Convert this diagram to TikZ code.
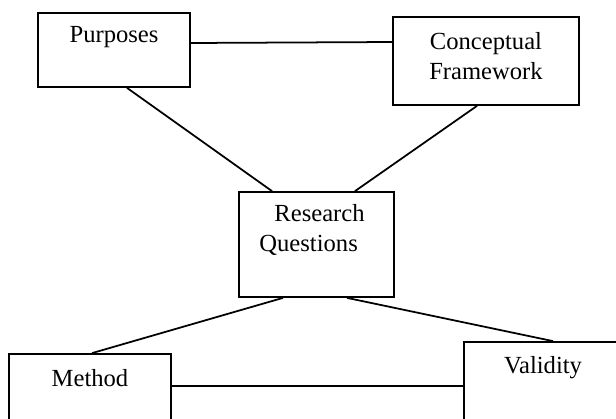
\documentclass[tikz,border=0pt]{standalone}
\usepackage{fontspec}
\setmainfont{Liberation Serif}
\usepackage{tikz}

\begin{document}
\begin{tikzpicture}[
	box/.style={draw, line width=1pt, rectangle},
	txt/.style={inner sep=0pt, font=\fontsize{14}{17}\selectfont},
	link/.style={line width=1pt}]
	%\draw[help lines, thick] (0,0) grid (12,8);
	\clip (0,0) rectangle (12.32,8.36);
	\node[box, minimum width=3.04cm, minimum height=1.48cm] (pur) at (2.28,7.36) {};
	\node[box, minimum width=3.72cm, minimum height=1.76cm] (con) at (9.72,7.14) {};
	\node[box, minimum width=3.10cm, minimum height=2.10cm] (rq) at (6.33,3.47) {};
	\node[box, minimum width=3.24cm, minimum height=1.76cm] (met) at (1.80,0.40) {};
	\node[box, minimum width=3.20cm, minimum height=1.76cm] (val) at (10.88,0.64) {};
	\node[txt] (purtxt) at ([yshift=-0.5cm]pur.north) {Purposes};
	\node[txt, align=center] (context) at ([xshift=0cm, yshift=-0.8cm]con.north) {Conceptual\\Framework};
	\node[txt, align=left] (rqtxt) at ([xshift=-0.09cm, yshift=-0.78cm]rq.north) {\hspace*{0.3cm}Research\\Questions};
	\node[txt] (mettxt) at ([yshift=-0.5cm]met.north) {Method};
	\node[txt] (valtxt) at ([xshift=-0.02cm, yshift=-0.52cm]val.north) {Validity};
	\draw[link] ([yshift=0.14cm]pur.east) -- ([yshift=0.38cm]con.west);
	\draw[link] ([xshift=0.26cm]pur.south) -- ([xshift=-0.89cm]rq.north);
	\draw[link] ([xshift=-0.18cm]con.south) -- ([xshift=0.77cm]rq.north);
	\draw[link] ([xshift=-0.67cm]rq.south) -- ([xshift=0.04cm]met.north);
	\draw[link] ([xshift=0.61cm]rq.south) -- ([xshift=0.18cm]val.north);
	\draw[link] ([yshift=0.24cm]met.east) -- (val.west);
\end{tikzpicture}
\end{document}
